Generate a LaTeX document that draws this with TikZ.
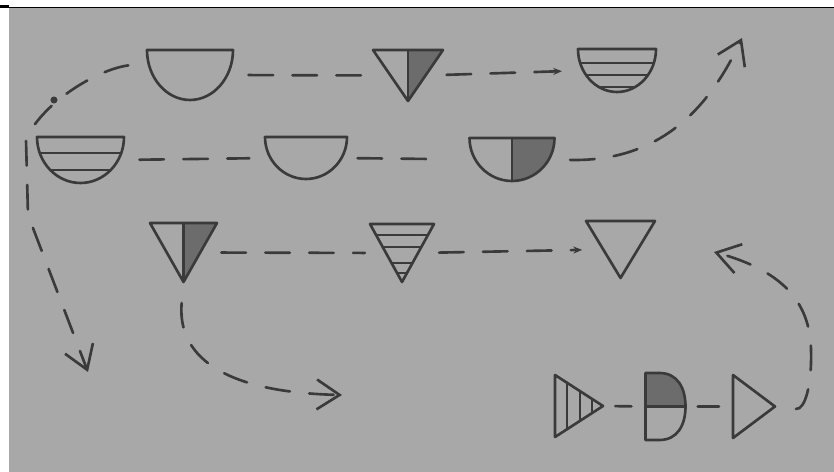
\documentclass[tikz,border=0pt]{standalone}
\usetikzlibrary{arrows.meta}

\definecolor{paper}{RGB}{168,168,168}
\definecolor{lead}{RGB}{58,58,58}
\definecolor{graphite}{RGB}{108,108,108}

% outlines of the pencil shapes (half width \shw, half height \shh)
\newcommand\bowlpath{(-\shw,-\shh) -- (\shw,-\shh) .. controls (\shw,0.1*\shh) and (0.55*\shw,\shh) .. (0,\shh) .. controls (-0.55*\shw,\shh) and (-\shw,0.1*\shh) .. cycle}
\newcommand\vtripath{(-\shw,-\shh) -- (\shw,-\shh) -- (0,\shh) -- cycle}
\newcommand\rtripath{(-\shw,-\shh) -- (\shw,0) -- (-\shw,\shh) -- cycle}
\newcommand\dcappath{(-\shw,-\shh) -- (-0.3*\shw,-\shh) .. controls (0.6*\shw,-\shh) and (\shw,-0.55*\shh) .. (\shw,0) .. controls (\shw,0.55*\shh) and (0.6*\shw,\shh) .. (-0.3*\shw,\shh) -- (-\shw,\shh) -- cycle}

\tikzset{
  pen/.style={draw=lead, line width=1.5pt, line join=round, line cap=round},
  link/.style={lead, line width=1.5pt, line cap=round, dash pattern=on 14pt off 11pt,
               shorten <=12pt, shorten >=12pt},
  nearlink/.style={shorten <=7pt, shorten >=8pt},
  arr/.style={shorten >=0pt, -{Straight Barb[length=13pt,width=17pt]}},
  tip/.style={-{Stealth[length=5pt,width=4pt]}},
  % what goes inside a shape
  core/none/.code={},
  core/half/.code={\fill[graphite] (0,-\shh) rectangle (\shw,\shh);
                   \draw[pen] (0,-\shh) -- (0,\shh);},
  core/top/.code={\fill[graphite] (-\shw,-\shh) rectangle (\shw,0);
                  \draw[pen] (-\shw,0) -- (\shw,0);},
  core/rows/.code={\foreach \f in {#1}
                     \draw[pen, line width=1.2pt] (-\shw,{\shh*(2*\f-1)}) -- (\shw,{\shh*(2*\f-1)});},
  core/cols/.code={\foreach \f in {#1}
                     \draw[pen, line width=1.2pt] ({\shw*(2*\f-1)},-\shh) -- ({\shw*(2*\f-1)},\shh);},
  pics/bowl/.style args={#1/#2/#3}{code={
    \def\shw{#1}\def\shh{#2}
    \begin{scope}\clip \bowlpath; \tikzset{core/#3}\end{scope}
    \draw[pen] \bowlpath;
    \coordinate (-w) at ({-0.87*#1},0);
    \coordinate (-e) at ({0.87*#1},0);
    \coordinate (-nw) at ({-0.95*#1},{-0.5*#2});
  }},
  pics/vtri/.style args={#1/#2/#3}{code={
    \def\shw{#1}\def\shh{#2}
    \begin{scope}\clip \vtripath; \tikzset{core/#3}\end{scope}
    \draw[pen] \vtripath;
    \coordinate (-w) at ({-0.5*#1},0);
    \coordinate (-e) at ({0.5*#1},0);
    \coordinate (-s) at (0,#2);
  }},
  pics/rtri/.style args={#1/#2/#3}{code={
    \def\shw{#1}\def\shh{#2}
    \begin{scope}\clip \rtripath; \tikzset{core/#3}\end{scope}
    \draw[pen] \rtripath;
    \coordinate (-w) at (-#1,0);
    \coordinate (-e) at (#1,0);
  }},
  pics/dcap/.style args={#1/#2/#3}{code={
    \def\shw{#1}\def\shh{#2}
    \begin{scope}\clip \dcappath; \tikzset{core/#3}\end{scope}
    \draw[pen] \dcappath;
    \coordinate (-w) at (-#1,0);
    \coordinate (-e) at (#1,0);
  }}
}

\begin{document}
\begin{tikzpicture}[x=0.02cm, y=-0.02cm]
\useasboundingbox (0,0) rectangle (834,472);

% --- sheet ---
\fill[white] (0,0) rectangle (834,472);
\fill[paper] (9,8) rectangle (834,472);
\draw[black, line width=0.8pt] (0,7.5) -- (834,7.5);
\fill[black] (0,5.5) rectangle (9,8.5);

% --- first row ---
\pic (A) at (190,75) {bowl={43/25/none}};
\pic (B) at (408,75.5) {vtri={35/25.5/half}};
\pic (C) at (617,70.5) {bowl={39/21.5/rows={0.33,0.6,0.88}}};

% --- second row ---
\pic (D) at (80.5,160) {bowl={43.5/23/rows={0.35,0.72}}};
\pic (E) at (306,158) {bowl={41/21/none}};
\pic (F) at (512,159.5) {bowl={42.5/21.5/half}};

% --- third row ---
\pic (G) at (183.5,252.5) {vtri={33.5/29.5/half}};
\pic (H) at (402,253) {vtri={32/29/rows={0.19,0.4,0.67,0.84}}};
\pic (I) at (620.5,249.5) {vtri={34.5/28.5/none}};

% --- bottom row ---
\pic (J) at (579,406) {rtri={24/31/cols={0.25,0.52,0.77}}};
\pic (K) at (665.5,406.5) {dcap={20/33.5/top}};
\pic (L) at (754,406.5) {rtri={21/31.5/none}};

% free ends of the arrows
\coordinate (upTip) at (742,38);
\coordinate (leftTip) at (88,372);
\coordinate (midTip) at (342,395);
\coordinate (backTip) at (714,252);

% --- straight links ---
\draw[link] (A-e) -- (B-w);
\draw[link,tip] (B-e) -- (C-w);
\draw[link] (D-e) -- (E-w);
\draw[link, shorten <=9pt, shorten >=21pt] (E-e) -- (F-w);
\draw[link] (G-e) -- (H-w);
\draw[link,tip] (H-e) -- (I-w);
\draw[link,nearlink] (J-e) -- (K-w);
\draw[link,nearlink] (K-e) -- (L-w);

% --- curved arrows ---
\draw[link,arr] (A-nw) .. controls (95,70) and (40,105) .. (26,140) -- (28,215) -- (leftTip);
\fill[lead] (54,100) circle[radius=2pt];
\draw[link,arr] (F-e) .. controls (665,162) and (712,102) .. (upTip);
\draw[link,arr] (G-s) .. controls (178,345) and (205,392) .. (midTip);
\draw[link,arr] (L-e) .. controls (805,410) and (812,385) .. (811,350)
                      .. controls (810,300) and (780,270) .. (backTip);

\end{tikzpicture}
\end{document}
